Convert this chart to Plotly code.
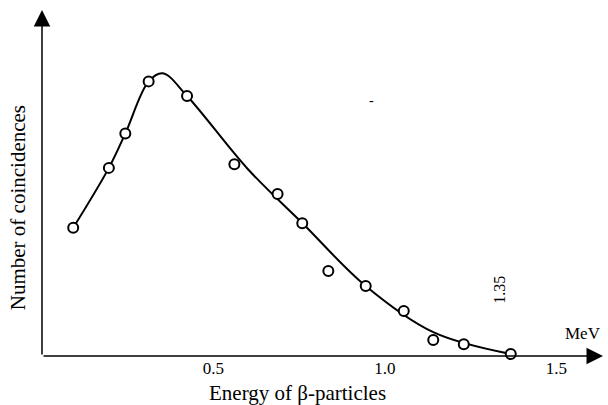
import plotly.graph_objects as go

# Measured points (energy in MeV, coincidences in arbitrary units)
energy_pts = [0.091, 0.195, 0.243, 0.311, 0.423, 0.561, 0.687, 0.759, 0.835, 0.944, 1.055, 1.141, 1.230, 1.367]
count_pts = [45.8, 67.2, 79.5, 98.1, 92.9, 68.5, 57.9, 47.4, 30.4, 25.0, 16.1, 5.7, 4.2, 0.7]

# Smooth fitted curve (knots)
energy_curve = [0.091, 0.195, 0.243, 0.311, 0.352, 0.423, 0.600, 0.759, 0.944, 1.141, 1.367]
count_curve = [45.8, 67.2, 79.5, 98.1, 101.0, 92.9, 66.8, 47.5, 25.0, 8.5, 0.7]

tick_vals = [0.5, 1.0, 1.5]
tick_text = ["0.5", "1.0", "1.5"]

X_MAX = 1.636
Y_MAX = 123.6
FONT = "Liberation Serif, Times New Roman, serif"

fig = go.Figure()
fig.add_trace(go.Scatter(x=energy_curve, y=count_curve, mode="lines",
                         line=dict(color="black", width=2, shape="spline", smoothing=1.0),
                         hoverinfo="skip", showlegend=False))
fig.add_trace(go.Scatter(x=energy_pts, y=count_pts, mode="markers",
                         marker=dict(symbol="circle", size=10, color="white",
                                     line=dict(color="black", width=2)),
                         showlegend=False, cliponaxis=False))

annotations = [
    dict(x=X_MAX, y=0, ax=0, ay=0, xref="x", yref="y", axref="x", ayref="y",
         text="", showarrow=True, arrowhead=2, arrowsize=2.2, arrowwidth=1.5, arrowcolor="black"),
    dict(x=0, y=Y_MAX, ax=0, ay=0, xref="x", yref="y", axref="x", ayref="y",
         text="", showarrow=True, arrowhead=2, arrowsize=2.2, arrowwidth=1.5, arrowcolor="black"),
    dict(x=1.0, y=0.064, xref="paper", yref="paper", text="MeV", showarrow=False,
         xanchor="right", yanchor="middle", font=dict(family=FONT, size=17, color="black")),
    dict(x=1.335, y=23.6, xref="x", yref="y", text="1.35", showarrow=False, textangle=-90,
         xanchor="center", yanchor="middle", font=dict(family=FONT, size=16, color="black")),
    dict(x=0.962, y=91.4, xref="x", yref="y", text="-", showarrow=False,
         font=dict(family=FONT, size=14, color="black")),
    dict(x=0.456, y=-0.107, xref="paper", yref="paper", text="Energy of β-particles", showarrow=False,
         xanchor="center", yanchor="middle", font=dict(family=FONT, size=21, color="black")),
    dict(x=-0.0428, y=0.43, xref="paper", yref="paper", text="Number of coincidences", showarrow=False,
         textangle=-90, xanchor="center", yanchor="middle",
         font=dict(family=FONT, size=21, color="black")),
]

fig.update_layout(
    width=608, height=405,
    margin=dict(l=42, r=5, t=10, b=49),
    paper_bgcolor="white", plot_bgcolor="white",
    xaxis=dict(range=[0, X_MAX], showgrid=False, zeroline=False, showline=False,
               tickvals=tick_vals, ticktext=tick_text, ticks="",
               tickfont=dict(family=FONT, size=17, color="black")),
    yaxis=dict(range=[0, Y_MAX], showgrid=False, zeroline=False, showline=False,
               showticklabels=False, ticks=""),
    annotations=annotations,
)

fig.write_html("out.html")
